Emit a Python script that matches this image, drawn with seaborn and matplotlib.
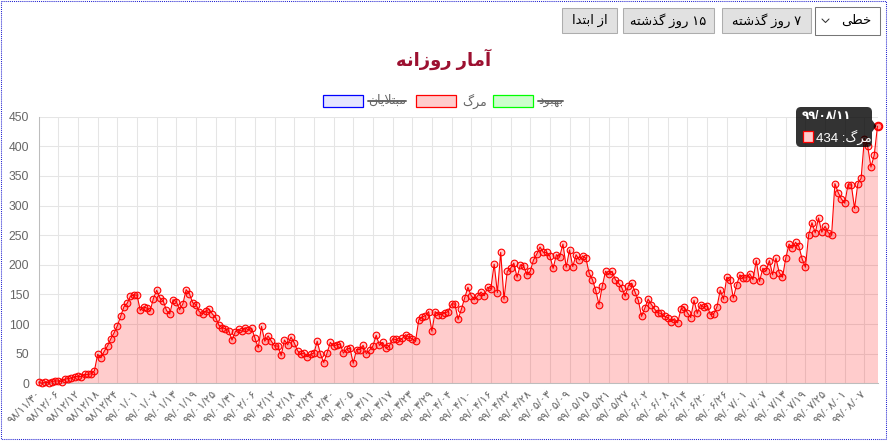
import re
import numpy as np
import pandas as pd
import matplotlib
matplotlib.use('Agg')
import matplotlib.pyplot as plt
from matplotlib.patches import Rectangle, FancyBboxPatch, Polygon
import seaborn as sns

# daily deaths, one value per day from 98/11/30 to 99/08/11
deaths = [
    2, 0, 2, 1, 3, 4, 4, 3, 7, 8,
    9, 11, 12, 11, 15, 15, 16, 21, 49, 43,
    54, 63, 75, 85, 97, 113, 129, 135, 147, 149,
    149, 123, 129, 127, 122, 143, 157, 144, 139, 123,
    117, 141, 138, 124, 134, 158, 151, 136, 133, 121,
    117, 122, 125, 117, 111, 98, 94, 92, 89, 73,
    87, 91, 88, 94, 90, 93, 76, 60, 96, 71,
    80, 71, 63, 63, 47, 73, 65, 78, 68, 55,
    49, 51, 45, 49, 51, 71, 49, 35, 51, 69,
    63, 65, 66, 51, 58, 59, 34, 57, 57, 64,
    50, 56, 63, 81, 64, 69, 59, 63, 75, 74,
    71, 76, 82, 78, 75, 71, 107, 112, 114, 121,
    88, 121, 116, 116, 119, 121, 134, 134, 108, 125,
    144, 162, 148, 141, 148, 154, 148, 162, 160, 201,
    153, 221, 142, 189, 194, 203, 179, 200, 198, 183,
    189, 208, 218, 230, 221, 221, 215, 194, 217, 214,
    235, 196, 225, 197, 217, 208, 215, 211, 186, 175,
    157, 133, 164, 189, 184, 189, 175, 169, 161, 147,
    165, 169, 154, 140, 113, 127, 142, 133, 125, 119,
    118, 113, 111, 104, 109, 102, 125, 129, 119, 111,
    140, 118, 133, 128, 131, 116, 117, 129, 157, 142,
    179, 175, 144, 166, 183, 178, 178, 185, 175, 207,
    172, 194, 190, 207, 183, 211, 187, 179, 211, 235,
    228, 238, 231, 210, 196, 251, 271, 254, 279, 255,
    265, 254, 251, 337, 322, 311, 304, 335, 335, 295,
    337, 346, 413, 400, 365, 385, 434,
]

# one label every 6 days
tick_labels = [
    '۹۸/۱۱/۳۰', '۹۸/۱۲/۰۶', '۹۸/۱۲/۱۲', '۹۸/۱۲/۱۸', '۹۸/۱۲/۲۴',
    '۹۹/۰۱/۰۱', '۹۹/۰۱/۰۷', '۹۹/۰۱/۱۳', '۹۹/۰۱/۱۹', '۹۹/۰۱/۲۵',
    '۹۹/۰۱/۳۱', '۹۹/۰۲/۰۶', '۹۹/۰۲/۱۲', '۹۹/۰۲/۱۸', '۹۹/۰۲/۲۴',
    '۹۹/۰۲/۳۰', '۹۹/۰۳/۰۵', '۹۹/۰۳/۱۱', '۹۹/۰۳/۱۷', '۹۹/۰۳/۲۳',
    '۹۹/۰۳/۲۹', '۹۹/۰۴/۰۴', '۹۹/۰۴/۱۰', '۹۹/۰۴/۱۶', '۹۹/۰۴/۲۲',
    '۹۹/۰۴/۲۸', '۹۹/۰۵/۰۳', '۹۹/۰۵/۰۹', '۹۹/۰۵/۱۵', '۹۹/۰۵/۲۱',
    '۹۹/۰۵/۲۷', '۹۹/۰۶/۰۲', '۹۹/۰۶/۰۸', '۹۹/۰۶/۱۴', '۹۹/۰۶/۲۰',
    '۹۹/۰۶/۲۶', '۹۹/۰۷/۰۱', '۹۹/۰۷/۰۷', '۹۹/۰۷/۱۳', '۹۹/۰۷/۱۹',
    '۹۹/۰۷/۲۵', '۹۹/۰۸/۰۱', '۹۹/۰۸/۰۷',
]
tick_step = 6
y_ticks = [0, 50, 100, 150, 200, 250, 300, 350, 400, 450]

title_text = 'آمار روزانه'
legend_labels = ['مبتلایان', 'مرگ', 'بهبود']
legend_hidden = [True, False, True]
button_labels = ['از ابتدا', '۱۵ روز گذشته', '۷ روز گذشته']
select_label = 'خطی'
tooltip_date = '۹۹/۰۸/۱۱'
tooltip_series = 'مرگ'

# matplotlib has no arabic shaping, so map letters to presentation forms
# (isolated, final, initial, medial)
FORMS = {
    '\u0627': ('\uFE8D', '\uFE8E', None, None),
    '\u0622': ('\uFE81', '\uFE82', None, None),
    '\u0628': ('\uFE8F', '\uFE90', '\uFE91', '\uFE92'),
    '\u062A': ('\uFE95', '\uFE96', '\uFE97', '\uFE98'),
    '\u062E': ('\uFEA5', '\uFEA6', '\uFEA7', '\uFEA8'),
    '\u062F': ('\uFEA9', '\uFEAA', None, None),
    '\u0630': ('\uFEAB', '\uFEAC', None, None),
    '\u0631': ('\uFEAD', '\uFEAE', None, None),
    '\u0632': ('\uFEAF', '\uFEB0', None, None),
    '\u0634': ('\uFEB5', '\uFEB6', '\uFEB7', '\uFEB8'),
    '\u0637': ('\uFEC1', '\uFEC2', '\uFEC3', '\uFEC4'),
    '\u0644': ('\uFEDD', '\uFEDE', '\uFEDF', '\uFEE0'),
    '\u0645': ('\uFEE1', '\uFEE2', '\uFEE3', '\uFEE4'),
    '\u0646': ('\uFEE5', '\uFEE6', '\uFEE7', '\uFEE8'),
    '\u0647': ('\uFEE9', '\uFEEA', '\uFEEB', '\uFEEC'),
    '\u0648': ('\uFEED', '\uFEEE', None, None),
    '\u06AF': ('\uFB92', '\uFB93', '\uFB94', '\uFB95'),
    '\u06CC': ('\uFBFC', '\uFBFD', '\uFBFE', '\uFBFF'),
    '\u064A': ('\uFBFC', '\uFBFD', '\uFBFE', '\uFBFF'),
}
LAM_ALEF = {'\u0627': ('\uFEFB', '\uFEFC'), '\u0622': ('\uFEF5', '\uFEF6')}


def shape(text):
    out = []
    i, n = 0, len(text)
    while i < n:
        ch = text[i]
        if ch not in FORMS:
            out.append(ch)
            i += 1
            continue
        prev = text[i - 1] if i > 0 else ''
        jp = prev in FORMS and FORMS[prev][2] is not None
        if ch == '\u0644' and i + 1 < n and text[i + 1] in LAM_ALEF:
            iso, fin = LAM_ALEF[text[i + 1]]
            out.append(fin if jp else iso)
            i += 2
            continue
        nxt = text[i + 1] if i + 1 < n else ''
        f = FORMS[ch]
        jn = f[2] is not None and nxt in FORMS
        if jp and jn:
            out.append(f[3])
        elif jp:
            out.append(f[1])
        elif jn:
            out.append(f[2])
        else:
            out.append(f[0])
        i += 1
    s = ''.join(out)[::-1]
    return re.sub(r'[0-9\u06F0-\u06F9]+', lambda m: m.group(0)[::-1], s)


sns.set_style('white')
plt.rcParams['font.family'] = ['Liberation Sans', 'DejaVu Sans']

W, H = 889, 443
fig = plt.figure(figsize=(W / 100, H / 100), dpi=100)
ax = fig.add_axes([38.7 / W, 1 - 383.3 / H, (877.5 - 38.7) / W, (383.3 - 116.7) / H])

df = pd.DataFrame({'day': np.arange(len(deaths)), 'deaths': deaths})

ax.fill_between(df['day'], df['deaths'], 0, color=(1, 0, 0, 0.2), linewidth=0, zorder=1)
sns.lineplot(data=df, x='day', y='deaths', ax=ax, color='red', linewidth=0.8,
             marker='o', markersize=4.8, markerfacecolor=(1, 0, 0, 0.2),
             markeredgecolor='red', markeredgewidth=0.8, clip_on=False, zorder=3)
# hovered point
ax.plot(df['day'].iloc[-1], df['deaths'].iloc[-1], 'o', ms=6, mfc=(1, 0, 0, 0.25),
        mec='red', mew=0.9, clip_on=False, zorder=4)

ax.set_xlim(0, len(deaths) - 1)
ax.set_ylim(0, 450)
ax.set_xticks(np.arange(len(tick_labels)) * tick_step)
ax.set_xticklabels(tick_labels)
ax.set_yticks(y_ticks)
ax.set_xlabel('')
ax.set_ylabel('')
ax.grid(True, color='#e5e5e5', linewidth=0.75)
ax.set_axisbelow(True)
ax.tick_params(axis='both', length=3.6, width=0.75, color='#e5e5e5', labelcolor='#666666')
ax.tick_params(axis='x', labelsize=8, pad=2.5)
ax.tick_params(axis='y', labelsize=8.7, pad=3.2)
for lbl in ax.get_xticklabels():
    lbl.set_rotation(45)
    lbl.set_ha('right')
    lbl.set_va('center')
    lbl.set_rotation_mode('anchor')
for side in ['top', 'right']:
    ax.spines[side].set_visible(False)
for side in ['left', 'bottom']:
    ax.spines[side].set_color('#bdbdbd')
    ax.spines[side].set_linewidth(0.75)

# overlay in pixel coordinates for the page widgets
ov = fig.add_axes([0, 0, 1, 1], zorder=10)
ov.set_xlim(0, W)
ov.set_ylim(H, 0)
ov.axis('off')
ov.patch.set_alpha(0)

ov.add_patch(Rectangle((1, 1), 885, 438, fill=False, edgecolor='#2020d0',
                       linewidth=0.75, linestyle=(0, (1, 1))))

ov.text(444, 59, shape(title_text), ha='center', va='center', fontsize=13,
        fontweight='bold', color='#9c1030')

# legend
legend_box_x = [323, 416, 493]
legend_text_x = [368, 462, 538]
legend_edge = ['#0000ff', '#ff0000', '#00ff00']
legend_face = [(0, 0, 1, 0.1), (1, 0, 0, 0.2), (0, 1, 0, 0.2)]
legend_texts = []
for bx, tx, ec, fc, lab in zip(legend_box_x, legend_text_x, legend_edge, legend_face, legend_labels):
    ov.add_patch(Rectangle((bx, 95), 40, 12, facecolor=fc, edgecolor=ec, linewidth=0.9))
    legend_texts.append(ov.text(tx, 101, shape(lab), ha='left', va='center',
                                fontsize=9, color='#666666'))

# buttons
button_x = [562, 623, 722]
button_w = [55, 91, 89]
for bx, bw, lab in zip(button_x, button_w, button_labels):
    ov.add_patch(Rectangle((bx, 8), bw, 25, facecolor='#e1e1e1', edgecolor='#adadad', linewidth=0.75))
    ov.text(bx + bw / 2, 20.5, shape(lab), ha='center', va='center', fontsize=9.5, color='black')
ov.add_patch(Rectangle((815, 7), 65, 28, facecolor='white', edgecolor='#767676', linewidth=0.75))
ov.text(871, 21, shape(select_label), ha='right', va='center', fontsize=9.5, color='black')
ov.plot([822, 825.5, 829], [19, 22.5, 19], color='#333333', linewidth=0.75)

# tooltip
ov.add_patch(FancyBboxPatch((796, 107), 76, 40, boxstyle='round,pad=0,rounding_size=5',
                            facecolor=(0, 0, 0, 0.8), edgecolor='none'))
ov.add_patch(Polygon([(872, 120), (876.5, 126), (872, 132)], closed=True,
                     facecolor=(0, 0, 0, 0.8), edgecolor='none'))
ov.text(802, 116, tooltip_date, ha='left', va='center', fontsize=8.5,
        fontweight='bold', color='white')
ov.add_patch(Rectangle((803, 131), 10, 11, facecolor='#ffcccc', edgecolor='red', linewidth=0.9))
ov.text(816, 137, shape(f'{tooltip_series}: {deaths[-1]}'), ha='left', va='center',
        fontsize=9.5, color='white')

# strike through the hidden legend entries
fig.canvas.draw()
for t, hidden in zip(legend_texts, legend_hidden):
    if hidden:
        bb = t.get_window_extent()
        ov.plot([bb.x0, bb.x1], [101, 101], color='#666666', linewidth=1.4)

fig.savefig('out.png', dpi=100)
